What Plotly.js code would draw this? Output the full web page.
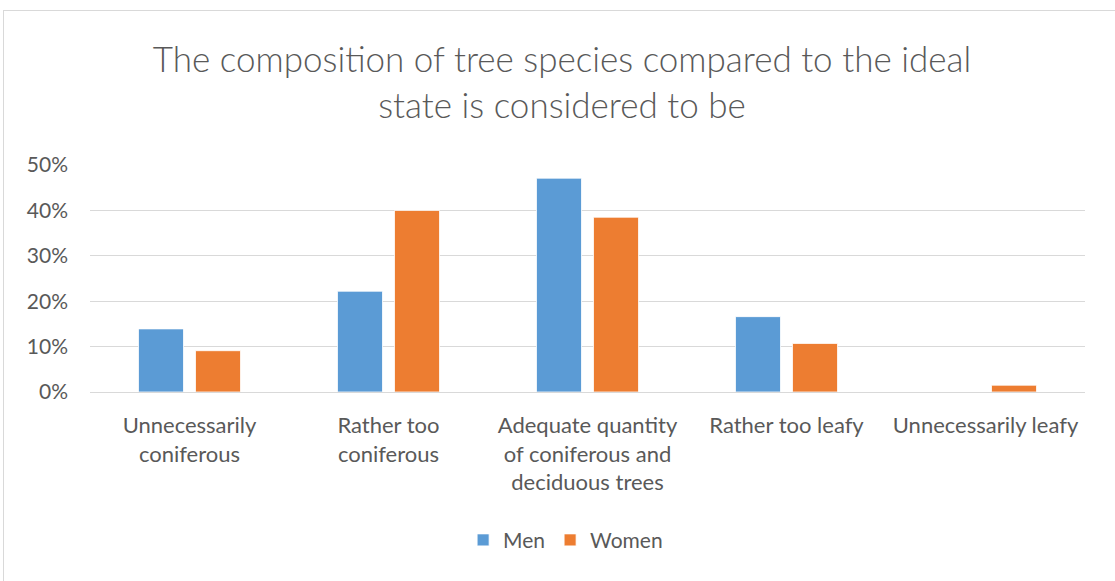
<!DOCTYPE html>
<html>
<head>
<meta charset="utf-8">
<script src="https://cdn.plot.ly/plotly-3.0.1.min.js"></script>
<style>
  html, body { margin: 0; padding: 0; background: #ffffff; overflow: hidden; }
  #frame { position: absolute; left: 3px; top: 10px; width: 1300px; height: 800px;
           border-left: 1px solid #D9D9D9; border-top: 1px solid #D9D9D9; box-sizing: border-box; }
  #chart { position: absolute; left: 0; top: 0; width: 1115px; height: 581px; }
</style>
</head>
<body>
<div id="frame"></div>
<div id="chart"></div>
<script>
const categories = [
  "Unnecessarily<br>coniferous",
  "Rather too<br>coniferous",
  "Adequate quantity<br>of coniferous and<br>deciduous trees",
  "Rather too leafy",
  "Unnecessarily leafy"
];
const menValues = [13.9, 22.2, 47.1, 16.6, 0];
const womenValues = [9.1, 40.0, 38.5, 10.7, 1.5];
const yTickValues = [0, 10, 20, 30, 40, 50];
const yTickLabels = ["0%", "10%", "20%", "30%", "40%", "50%"];

const textColor = "#595959";
const fontFamily = "Lato, 'Open Sans', sans-serif";

const traces = [
  { type: "bar", name: "Men", x: categories, y: menValues,
    marker: { color: "#5B9BD5", line: { color: "#ffffff", width: 0.8 } }, hoverinfo: "skip" },
  { type: "bar", name: "Women", x: categories, y: womenValues,
    marker: { color: "#ED7D31", line: { color: "#ffffff", width: 0.8 } }, hoverinfo: "skip" }
];

const layout = {
  width: 1115, height: 581,
  paper_bgcolor: "rgba(0,0,0,0)", plot_bgcolor: "rgba(0,0,0,0)",
  margin: { l: 90, r: 30, t: 165, b: 189, pad: 0 },
  font: { family: fontFamily, color: textColor, size: 21 },
  title: {
    text: "The composition of tree species compared to the ideal<br>state is considered to be",
    font: { family: fontFamily, size: 35, color: textColor, weight: 300 },
    x: 562 / 1115, xref: "container", xanchor: "center",
    y: 1 - 72 / 581, yref: "container", yanchor: "middle"
  },
  barmode: "group", bargap: 0.427, bargroupgap: 0.21,
  xaxis: {
    showgrid: false, showline: false, zeroline: false, ticks: "",
    tickfont: { family: fontFamily, size: 22, color: textColor },
    ticklabelstandoff: 18, fixedrange: true
  },
  yaxis: {
    range: [0, 50], tickvals: yTickValues, ticktext: yTickLabels,
    showgrid: true, gridcolor: "#D9D9D9", gridwidth: 1,
    zeroline: true, zerolinecolor: "#D9D9D9", zerolinewidth: 1,
    showline: false, ticks: "",
    tickfont: { family: fontFamily, size: 21, color: textColor },
    ticklabelstandoff: 21, fixedrange: true
  },
  showlegend: true,
  legend: {
    orientation: "h", x: 0.478, xanchor: "center", y: -0.653, yanchor: "middle",
    font: { family: fontFamily, size: 21, color: textColor },
    itemwidth: 30, traceorder: "normal", bgcolor: "rgba(0,0,0,0)"
  }
};

Plotly.newPlot("chart", traces, layout, { displayModeBar: false, staticPlot: true });
</script>
</body>
</html>
